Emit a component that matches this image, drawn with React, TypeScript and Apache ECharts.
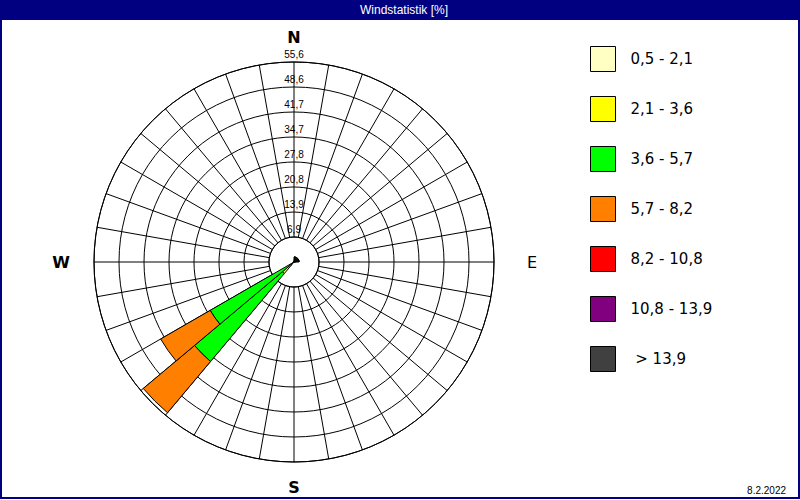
import React, { useEffect, useRef } from 'react';
import * as echarts from 'echarts';

const TITLE = 'Windstatistik [%]';
const DATE_TEXT = '8.2.2022';
const CARDINALS = ['N', 'E', 'S', 'W'];
const CARDINAL_KEYS = ['n', 'e', 's', 'w'];

// 36 direction sectors of 10 degrees (bearing of sector start)
const DIRECTIONS = [
  0, 10, 20, 30, 40, 50, 60, 70, 80, 90,
  100, 110, 120, 130, 140, 150, 160, 170, 180, 190,
  200, 210, 220, 230, 240, 250, 260, 270, 280, 290,
  300, 310, 320, 330, 340, 350,
];

const RING_STEP = 6.95;
const RING_LABELS = ['6,9', '13,9', '20,8', '27,8', '34,7', '41,7', '48,6', '55,6'];

const BIN_NAMES = ['0,5 - 2,1', '2,1 - 3,6', '3,6 - 5,7', '5,7 - 8,2', '8,2 - 10,8', '10,8 - 13,9', ' > 13,9'];
const BIN_COLORS = ['#FFFFC4', '#FFFF00', '#00FF00', '#FF8000', '#FF0000', '#800080', '#404040'];

// frequency [%] per direction sector, for each wind-speed class
const BIN_1 = [
  0, 0, 0, 0, 0, 0, 0, 0, 0, 0,
  0, 0, 0, 0, 0, 0, 0, 0, 0, 0,
  0, 0, 1.2, 0.4, 0, 0, 0, 0, 0, 0,
  0, 0, 0, 0, 0, 0,
];
const BIN_2 = [
  0, 0, 0, 0, 0, 0, 0, 0, 0, 0,
  0, 0, 0, 0, 0, 0, 0, 0, 0, 0,
  0, 0, 3.0, 0.4, 0, 0, 0, 0, 0, 0,
  0, 0, 0, 0, 0, 0,
];
const BIN_3 = [
  1.4, 1.4, 1.4, 1.4, 1.4, 1.4, 1.4, 1.4, 1.4, 0,
  0, 0, 0, 0, 0, 0, 0, 0, 0, 0,
  0, 0, 31.9, 26.1, 0, 0, 0, 0, 0, 0,
  0, 0, 0, 0, 0, 0,
];
const BIN_4 = [
  0, 0, 0, 0, 0, 0, 0, 0, 0, 0,
  0, 0, 0, 0, 0, 0, 0, 0, 0, 0,
  0, 0, 18.6, 15.9, 0, 0, 0, 0, 0, 0,
  0, 0, 0, 0, 0, 0,
];
const BIN_5: number[] = [];
const BIN_6: number[] = [];
const BIN_7: number[] = [];

export default function App() {
  const ref = useRef<HTMLDivElement>(null);

  useEffect(() => {
    const chart = echarts.init(ref.current!, null, { renderer: 'svg' });
    const center = [294, 262];
    const bins = [BIN_1, BIN_2, BIN_3, BIN_4, BIN_5, BIN_6, BIN_7];
    const radMax = Number((RING_STEP * RING_LABELS.length).toFixed(2));

    chart.setOption({
      animation: false,
      backgroundColor: '#ffffff',
      textStyle: { fontFamily: 'DejaVu Sans' },
      title: [
        {
          text: DATE_TEXT,
          right: 14,
          bottom: 5,
          padding: 0,
          textStyle: { fontSize: 10, fontWeight: 'normal', color: '#000', fontFamily: 'Liberation Sans' },
        },
      ],
      polar: [
        { center, radius: [0, 200] },
        { center, radius: [25, 200] },
        { center, radius: [0, 200] },
      ],
      angleAxis: [
        { polarIndex: 0, type: 'category', data: DIRECTIONS, startAngle: 90, clockwise: true, show: false },
        {
          polarIndex: 1,
          type: 'category',
          data: DIRECTIONS,
          startAngle: 90,
          clockwise: true,
          axisLine: { show: true, lineStyle: { color: '#000', width: 1 } },
          axisTick: { show: false, interval: 0 },
          axisLabel: { show: false, interval: 0 },
          splitLine: { show: true, interval: 0, lineStyle: { color: '#000', width: 1 } },
          splitArea: { show: false },
        },
        {
          polarIndex: 2,
          type: 'value',
          min: 0,
          max: 360,
          interval: 90,
          startAngle: 90,
          clockwise: true,
          axisLine: { show: false },
          axisTick: { show: false },
          splitLine: { show: false },
          axisLabel: {
            margin: 17,
            formatter: (v: number) => {
              const i = Math.round(v / 90);
              if (i >= 4) return '';
              return `{${CARDINAL_KEYS[i]}|${CARDINALS[i]}}`;
            },
            rich: {
              n: { fontSize: 16, fontWeight: 'bold', color: '#000', fontFamily: 'DejaVu Sans' },
              s: { fontSize: 16, fontWeight: 'bold', color: '#000', fontFamily: 'DejaVu Sans' },
              w: { fontSize: 16, fontWeight: 'bold', color: '#000', fontFamily: 'DejaVu Sans', padding: [0, 7, 0, 0] },
              e: { fontSize: 16, fontWeight: 'normal', color: '#000', fontFamily: 'DejaVu Sans', padding: [0, 0, 0, 16] },
            },
          },
        },
      ],
      radiusAxis: [
        {
          polarIndex: 0,
          type: 'value',
          min: 0,
          max: radMax,
          interval: RING_STEP,
          axisLine: { show: false },
          axisTick: { show: false },
          splitLine: { show: true, lineStyle: { color: '#000', width: 1 } },
          splitArea: { show: false },
          axisLabel: {
            margin: 0,
            align: 'center',
            verticalAlign: 'bottom',
            padding: [0, 0, 3, 0],
            color: '#000',
            fontSize: 10,
            fontFamily: 'Liberation Sans',
            formatter: (v: number) => {
              const i = Math.round(v / RING_STEP);
              return i >= 1 ? RING_LABELS[i - 1] : '';
            },
          },
        },
        { polarIndex: 1, type: 'value', show: false },
        { polarIndex: 2, type: 'value', show: false },
      ],
      legend: {
        orient: 'vertical',
        left: 590,
        top: 46,
        padding: 0,
        itemWidth: 25,
        itemHeight: 25,
        itemGap: 24,
        icon: 'rect',
        selectedMode: false,
        data: BIN_NAMES,
        itemStyle: { borderColor: '#000', borderWidth: 1 },
        textStyle: { fontSize: 15, color: '#000', fontFamily: 'DejaVu Sans', padding: [0, 0, 0, 10] },
      },
      series: bins.map((d, i) => ({
        type: 'bar',
        name: BIN_NAMES[i],
        coordinateSystem: 'polar',
        polarIndex: 0,
        stack: 'wind',
        data: d,
        barCategoryGap: '0%',
        itemStyle: { color: BIN_COLORS[i], borderColor: '#000', borderWidth: 1 },
        emphasis: { disabled: true },
        z: 3,
      })),
      graphic: [
        {
          type: 'rect',
          shape: { x: 0, y: 0, width: 800, height: 20 },
          style: { fill: '#000080' },
          z: 10,
        },
        {
          type: 'text',
          x: 404,
          y: 10,
          style: {
            text: TITLE,
            fill: '#ffffff',
            fontSize: 12,
            fontFamily: 'Liberation Sans',
            align: 'center',
            verticalAlign: 'middle',
          },
          z: 11,
        },
        {
          type: 'rect',
          shape: { x: 1, y: 0, width: 798, height: 498 },
          style: { fill: 'none', stroke: '#000080', lineWidth: 2 },
          z: 10,
        },
      ],
    });

    return () => chart.dispose();
  }, []);

  return (
    <div
      ref={ref}
      style={{ position: 'fixed', left: 0, top: 0, width: 800, height: 500 }}
    />
  );
}
